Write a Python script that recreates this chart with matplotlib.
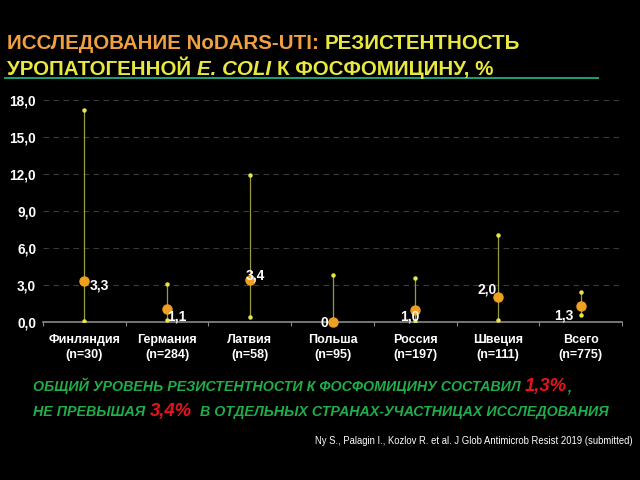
#!/usr/bin/env python

# Fosfomycin resistance of uropathogenic E. coli by country (NoDARS-UTI)
# Point estimate with 95% CI whiskers, dark slide style.

import matplotlib
matplotlib.use("Agg")
import matplotlib.pyplot as plt
from matplotlib.lines import Line2D

plt.rcParams["font.family"] = ["Liberation Sans", "DejaVu Sans"]

countries = ["Финляндия", "Германия", "Латвия", "Польша", "Россия", "Швеция", "Всего"]
n_sizes = [30, 284, 58, 95, 197, 111, 775]
resistance = [3.3, 1.1, 3.4, 0.0, 1.0, 2.0, 1.3]
ci_low = [0.1, 0.2, 0.4, 0.0, 0.1, 0.2, 0.6]
ci_high = [17.2, 3.1, 11.9, 3.8, 3.6, 7.1, 2.4]
value_labels = ["3,3", "1,1", "3,4", "0", "1,0", "2,0", "1,3"]
y_ticks = [0, 3, 6, 9, 12, 15, 18]
y_ticklabels = ["0,0", "3,0", "6,0", "9,0", "12,0", "15,0", "18,0"]

# label offsets in points (dx, dy) and alignment
label_pos = [
    (4, -3, "left"), (0, -6, "left"), (-3, 3, "left"), (-3, -1, "right"),
    (-11, -5, "left"), (-15, 6, "left"), (-19, -7, "left"),
]

BG = "black"
ORANGE = "#f0a020"
YELLOW = "#e8e840"
WHISKER = "#9a9a40"
GREEN = "#1fae4a"
RED = "#e8141c"

fig = plt.figure(figsize=(6.4, 4.8), dpi=100, facecolor=BG)

ax = fig.add_axes([0.0672, 0.329, 0.9047, 0.4625])
ax.set_facecolor(BG)
x = list(range(len(countries)))
ax.set_xlim(-0.5, len(countries) - 0.5)
ax.set_ylim(0, 18)

for yv in y_ticks[1:]:
    ax.axhline(yv, color="#3a3a3a", lw=0.8, ls=(0, (5, 4)), zorder=1)

for i in x:
    ax.plot([i, i], [ci_low[i], ci_high[i]], color=WHISKER, lw=0.9, zorder=2)
    ax.plot([i, i], [ci_low[i], ci_high[i]], ls="none", marker="o",
            ms=2.2, color=YELLOW, zorder=3)
ax.plot(x, resistance, ls="none", marker="o", ms=6.5, color=ORANGE,
        zorder=4, clip_on=False)

for i in x:
    dx, dy, ha = label_pos[i]
    ax.annotate(value_labels[i], (i, resistance[i]), xytext=(dx, dy),
                textcoords="offset points", ha=ha, va="center",
                color="white", fontsize=10, fontweight="bold", zorder=5)

for s in ["left", "right", "top"]:
    ax.spines[s].set_visible(False)
ax.spines["bottom"].set_color("#8a8a8a")
ax.spines["bottom"].set_linewidth(1.2)

ax.set_yticks(y_ticks)
ax.set_yticklabels(y_ticklabels, color="white", fontsize=9.8, fontweight="bold")
ax.tick_params(axis="y", length=0, pad=5)

ax.set_xticks([i - 0.5 for i in range(len(countries) + 1)])
ax.set_xticklabels([])
ax.tick_params(axis="x", length=3, color="#8a8a8a", direction="out")
for i in x:
    ax.text(i, -0.052, f"{countries[i]}\n(n={n_sizes[i]})",
            transform=ax.get_xaxis_transform(), ha="center", va="top",
            color="white", fontsize=9, fontweight="bold", linespacing=1.4)


def write_parts(parts, x0, y0, **common):
    # draw pieces one after another on the same baseline
    fig.canvas.draw()
    r = fig.canvas.get_renderer()
    cur = x0
    for txt, kw in parts:
        style = dict(common)
        style.update(kw)
        t = fig.text(cur, y0, txt, ha="left", va="baseline", **style)
        bb = t.get_window_extent(renderer=r)
        cur = cur + bb.width / fig.bbox.width


title_font = dict(fontsize=14.8, fontweight="bold")
write_parts([("ИССЛЕДОВАНИЕ NoDARS-UTI: ", dict(color="#f0a040")),
             ("РЕЗИСТЕНТНОСТЬ", dict(color=YELLOW))],
            0.011, 1 - 49 / 480, **title_font)
write_parts([("УРОПАТОГЕННОЙ ", dict(color=YELLOW)),
             ("E. COLI ", dict(color=YELLOW, style="italic")),
             ("К ФОСФОМИЦИНУ, %", dict(color=YELLOW))],
            0.011, 1 - 75 / 480, **title_font)
fig.add_artist(Line2D([0.008, 0.934], [1 - 77.5 / 480, 1 - 77.5 / 480],
                      color="#1f9a78", lw=1.5))

note_font = dict(fontweight="bold", style="italic")
write_parts([("ОБЩИЙ УРОВЕНЬ РЕЗИСТЕНТНОСТИ К ФОСФОМИЦИНУ СОСТАВИЛ ", dict(color=GREEN, fontsize=10.3)),
             ("1,3%", dict(color=RED, fontsize=13.3)),
             (",", dict(color=GREEN, fontsize=10.3))],
            0.052, 1 - 391 / 480, **note_font)
write_parts([("НЕ ПРЕВЫШАЯ ", dict(color=GREEN, fontsize=10.3)),
             ("3,4%", dict(color=RED, fontsize=13.3)),
             ("  В ОТДЕЛЬНЫХ СТРАНАХ-УЧАСТНИЦАХ ИССЛЕДОВАНИЯ", dict(color=GREEN, fontsize=10.3))],
            0.052, 1 - 416 / 480, **note_font)

fig.text(0.989, 1 - 444 / 480,
         "Ny S., Palagin I., Kozlov R. et al. J Glob Antimicrob Resist 2019 (submitted)",
         ha="right", va="baseline", color="white", fontsize=6.85)

fig.savefig("out.png", dpi=100, facecolor=BG)
